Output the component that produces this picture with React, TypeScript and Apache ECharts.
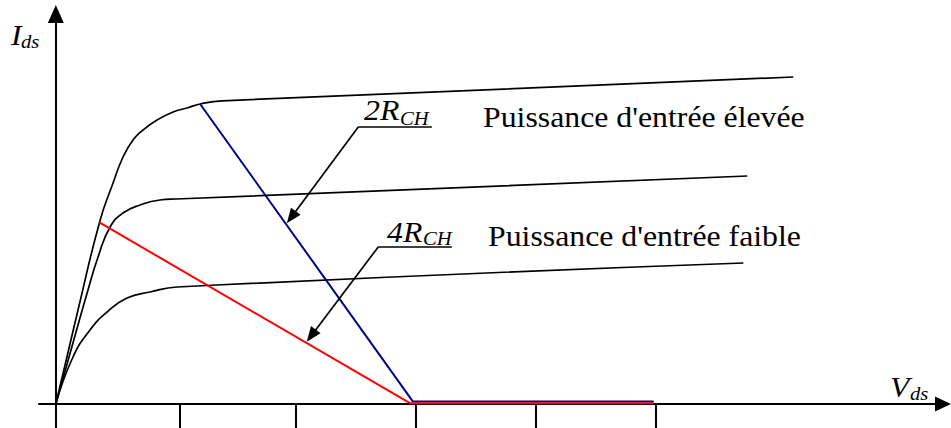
import React, { useEffect, useRef } from "react";
import * as echarts from "echarts";

// V_ds (x) and I_ds (y) in arbitrary units
const highPowerCurve: number[][] = [
  [0, 0], [0.185, 2.35], [0.368, 4.58], [0.477, 5.525], [0.56, 6.175], [0.643, 6.6],
  [0.727, 6.85], [0.843, 7.1], [0.977, 7.3], [1.093, 7.4], [1.202, 7.5], [1.385, 7.58], [6.143, 8.175],
];
const midPowerCurve: number[][] = [
  [0, 0], [0.11, 1.175], [0.268, 2.85], [0.352, 3.675], [0.452, 4.425], [0.56, 4.775],
  [0.702, 4.975], [0.868, 5.1], [1.002, 5.125], [5.76, 5.7],
];
const lowPowerCurve: number[][] = [
  [0, 0], [0.143, 1.175], [0.285, 1.85], [0.427, 2.3], [0.593, 2.65], [0.785, 2.8],
  [1.01, 2.925], [5.727, 3.525],
];
const loadLine2R: number[][] = [[1.202, 7.5], [2.975, 0.06], [4.98, 0.06]];
const loadLine4R: number[][] = [[0.3625, 4.54], [2.95, 0.02], [4.98, 0.02]];
const xTickValues: number[] = [0, 1.035, 2, 3, 4, 5];

// annotation leaders: [underline end, corner, arrow point]
const leader2R: number[][] = [[3.1325, 6.933], [2.521, 6.933], [1.9617, 4.667]];
const leader4R: number[][] = [[3.299, 3.933], [2.6875, 3.933], [2.128, 1.7075]];

const labelHigh = "Puissance d'entrée élevée";
const labelLow = "Puissance d'entrée faible";

const SERIF = "Liberation Serif";

function txt(text: string, x: number, baseline: number, fs: number, italic: boolean) {
  return {
    type: "text",
    x,
    y: baseline - 0.3375 * fs,
    scaleX: 1.06,
    silent: true,
    style: {
      text,
      fontSize: fs,
      fontFamily: SERIF,
      fontStyle: italic ? "italic" : "normal",
      fill: "#000",
      align: "left",
      verticalAlign: "middle",
    },
  };
}

function leaderData(pts: number[][]) {
  return [
    [{ coord: pts[0], symbol: "none" }, { coord: pts[1], symbol: "none" }],
    [{ coord: pts[1], symbol: "none" }, { coord: pts[2], symbol: "triangle", symbolSize: [12, 15] }],
  ];
}

export default function App() {
  const ref = useRef<HTMLDivElement>(null);
  useEffect(() => {
    if (!ref.current) return;
    const chart = echarts.init(ref.current, null, { renderer: "svg" });
    const curveStyle = { color: "#000", width: 1.7 };
    chart.setOption({
      animation: false,
      backgroundColor: "#fff",
      grid: { left: 39, right: 8, top: 14, bottom: 24 },
      xAxis: {
        type: "value", min: -0.14, max: 7.39,
        axisLine: { show: true, onZero: true, symbol: ["none", "triangle"], symbolSize: [15, 16], lineStyle: { color: "#000", width: 2 } },
        axisTick: { show: true, customValues: xTickValues, length: 24, inside: false, lineStyle: { color: "#000", width: 2 } },
        axisLabel: { show: false }, splitLine: { show: false },
      },
      yAxis: {
        type: "value", min: 0, max: 9.75,
        axisLine: { show: true, onZero: true, symbol: ["none", "triangle"], symbolSize: [16, 18], lineStyle: { color: "#000", width: 2 } },
        axisTick: { show: false }, axisLabel: { show: false }, splitLine: { show: false },
      },
      series: [
        { type: "line", data: highPowerCurve, smooth: 0.5, showSymbol: false, lineStyle: curveStyle, z: 2 },
        { type: "line", data: midPowerCurve, smooth: 0.5, showSymbol: false, lineStyle: curveStyle, z: 2 },
        { type: "line", data: lowPowerCurve, smooth: 0.5, showSymbol: false, lineStyle: curveStyle, z: 2 },
        { type: "line", data: loadLine2R, showSymbol: false, lineStyle: { color: "#000080", width: 2 }, z: 3 },
        { type: "line", data: loadLine4R, showSymbol: false, lineStyle: { color: "#ff0000", width: 2 }, z: 4 },
        {
          type: "line", data: [], z: 5,
          markLine: {
            silent: true, animation: false, label: { show: false },
            lineStyle: { color: "#000", width: 1.7, type: "solid" },
            itemStyle: { color: "#000" }, emphasis: { disabled: true },
            data: [...leaderData(leader2R), ...leaderData(leader4R)],
          },
        },
      ],
      graphic: [
        txt("I", 11, 45, 30, true),
        txt("ds", 21, 48, 19.5, true),
        txt("V", 890, 397, 30, true),
        txt("ds", 910, 400, 19.5, true),
        txt("2R", 364, 120, 30, true),
        txt("CH", 400, 125, 19.5, true),
        txt("4R", 387, 242, 30, true),
        txt("CH", 423, 245, 19.5, true),
        txt(labelHigh, 483, 127, 30, false),
        txt(labelLow, 488, 246, 30, false),
      ],
    });
    return () => chart.dispose();
  }, []);
  return (
    <div ref={ref} style={{ position: "absolute", left: 0, top: 0, width: 951, height: 428, background: "#fff" }} />
  );
}
